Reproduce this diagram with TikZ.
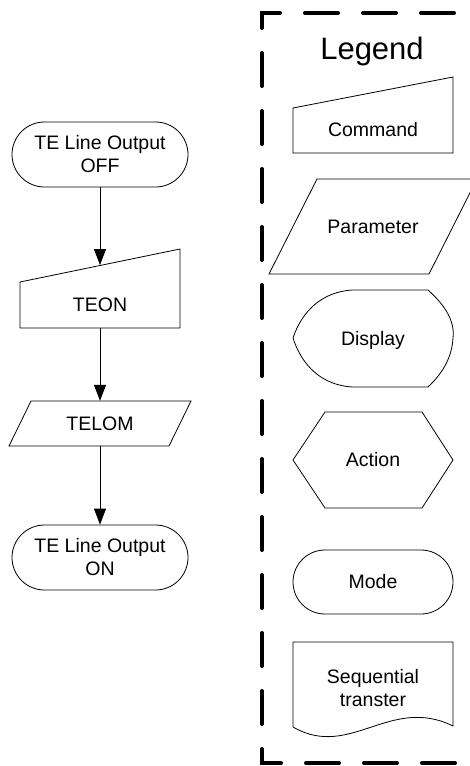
\documentclass[tikz,border=0pt]{standalone}
\usepackage{fontspec}
\setmainfont{Liberation Sans}
\usetikzlibrary{arrows.meta,shapes.misc}
\begin{document}
\begin{tikzpicture}[x=1pt,y=-1pt,
  shp/.style={draw=black, line width=0.8pt},
  txt/.style={font=\fontsize{19.5}{23}\selectfont, align=center, inner sep=0pt},
  term/.style={shp, rounded rectangle, minimum width=176pt, minimum height=65pt, inner sep=0pt, txt},
  bodybox/.style={rectangle, draw=none, inner sep=0pt, txt},
  arr/.style={line width=0.8pt, -{Triangle[width=12pt,length=16pt]}},
  legendbox/.style={line width=4pt, line cap=round, dash pattern=on 33pt off 25pt, dash phase=12pt}]
\useasboundingbox (0,0) rectangle (470,766);
\clip (0,0) rectangle (470,766);

% ---- flow (left) ----
\node[term] (off) at (100,154.5) {TE Line Output\\OFF};

\draw[shp] (20,282) -- (180,249) -- (180,328) -- (20,328) -- cycle;
\node[bodybox, minimum width=160pt, minimum height=46pt] (teon) at (100,305) {TEON};
\coordinate (teontop) at (100,265);

\draw[shp] (31,401) -- (191,401) -- (169,446) -- (9,446) -- cycle;
\node[bodybox, minimum width=160pt, minimum height=45pt] (telom) at (100,423.5) {TELOM};

\node[term] (on) at (100,557.5) {TE Line Output\\ON};

\draw[arr] (off.south) -- (teontop);
\draw[arr] (teon.south) -- (telom.north);
\draw[arr] (telom.south) -- (on.north);

% ---- legend (right) ----
\draw[legendbox] (500,13) -- (262,13) -- (262,763) -- (500,763);
\node[inner sep=0pt, font=\fontsize{31}{36}\selectfont] (legtitle) at (372,51) {Legend};

\draw[shp] (293,108) -- (453,77) -- (453,153) -- (293,153) -- cycle;
\node[txt] (cmd) at (373,130) {Command};

\draw[shp] (317,179) -- (477,179) -- (429,274) -- (269,274) -- cycle;
\node[txt] (par) at (373,226.5) {Parameter};

\draw[shp] (352,290) -- (428,290)
  .. controls (446,306) and (455,322) .. (453,338)
  .. controls (452,356) and (444,372) .. (428,387)
  -- (352,387)
  .. controls (322,385) and (302,366) .. (293,338)
  .. controls (302,311) and (322,292) .. (352,290);
\node[txt] (disp) at (373,340) {Display};

\draw[shp] (293,460) -- (325,412) -- (422,412) -- (453,460) -- (422,508) -- (325,508) -- cycle;
\node[txt] (act) at (373,460) {Action};

\node[shp, rounded rectangle, minimum width=160pt, minimum height=64pt, inner sep=0pt, txt] (mode) at (373,582) {Mode};

\draw[shp] (293,727) -- (293,642) -- (453,642) -- (453,726)
  .. controls (390,695) and (350,760) .. (293,727);
\node[txt] (seq) at (373,688) {Sequential\\transter};
\end{tikzpicture}
\end{document}
